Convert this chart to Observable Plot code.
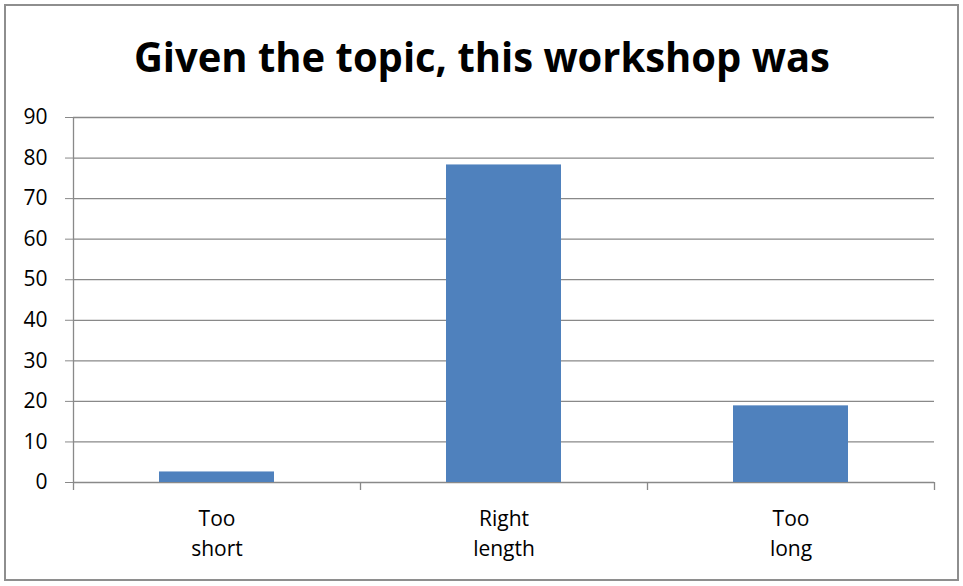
<!DOCTYPE html>
<html>
<head>
<meta charset="utf-8">
<script src="https://cdn.jsdelivr.net/npm/d3@7"></script>
<script src="https://cdn.jsdelivr.net/npm/@observablehq/plot@0.6"></script>
<style>
  html, body { margin: 0; padding: 0; background: #fff; }
  #wrap { position: relative; width: 963px; height: 586px; overflow: hidden; font-family: "Open Sans", sans-serif; }
  #border { position: absolute; left: 4px; top: 4px; width: 951px; height: 573px; border: 2px solid #8e8e8e; }
  #title { position: absolute; left: 0; top: 35px; width: 963px; text-align: center; font-weight: 700; font-size: 42px; line-height: 42px; color: #000; white-space: nowrap; }
  #title span { display: inline-block; transform-origin: center; }
  #chart { position: absolute; left: 0; top: 100px; }
  #chart svg { font-family: "Open Sans", sans-serif; color: #000; background: transparent; }
</style>
</head>
<body>
<div id="wrap">
  <div id="border"></div>
  <div id="title"><span>Given the topic, this workshop was</span></div>
  <div id="chart"></div>
</div>
<script>
const categories = ["Too short", "Right length", "Too long"];
const values = [2.6, 78.3, 18.9];
const xTickLabels = ["Too\nshort", "Right\nlength", "Too\nlong"];
const yTicks = [0, 10, 20, 30, 40, 50, 60, 70, 80, 90];

const data = categories.map((c, i) => ({cat: c, value: values[i]}));
const labelMap = new Map(categories.map((c, i) => [c, xTickLabels[i]]));

const W = 963, H = 486, mL = 73, mR = 29, mT = 17, mB = 104;
const step = (W - mL - mR) / categories.length;
const grid = "#898989";

const plot = Plot.plot({
  width: W,
  height: H,
  marginLeft: mL,
  marginRight: mR,
  marginTop: mT,
  marginBottom: mB,
  x: {type: "band", domain: categories, paddingInner: 0.6, paddingOuter: 0.3},
  y: {domain: [0, 90]},
  marks: [
    Plot.ruleY(yTicks, {stroke: grid, strokeWidth: 1.3}),
    Plot.barY(data, {x: "cat", y: "value", fill: "#4F81BD"}),
    Plot.axisY({ticks: yTicks, tickSize: 8, tickPadding: 18, stroke: grid, fill: "#000", fontSize: 21, label: null}),
    Plot.axisX({ticks: categories, tickSize: 0, tickPadding: 22, tickFormat: d => labelMap.get(d), fill: "#000", fontSize: 21, lineHeight: 1.43, label: null}),
    Plot.ruleX(categories, {x: d => d, dx: step / 2, y1: 0, y2: 0, insetBottom: -8, stroke: grid, strokeWidth: 1.3}),
    Plot.ruleX([categories[0]], {x: d => d, dx: -step / 2, y1: 90, y2: 0, insetBottom: -8, stroke: grid, strokeWidth: 1.3})
  ]
});
document.getElementById("chart").appendChild(plot);

// Fit title width to the reference (narrow face)
const span = document.querySelector("#title span");
const w = span.getBoundingClientRect().width;
const target = 696;
span.style.transform = `scaleX(${target / w})`;
</script>
</body>
</html>
